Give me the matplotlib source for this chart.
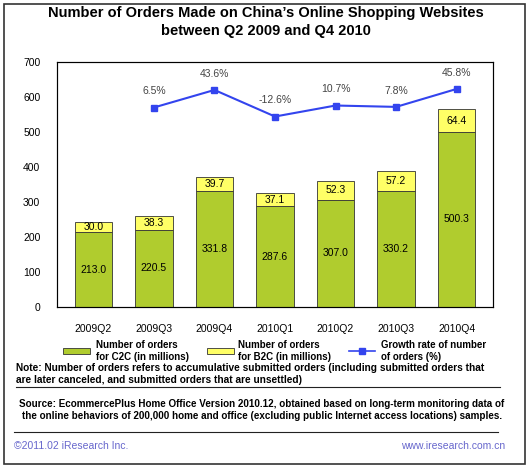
import matplotlib
matplotlib.use("Agg")
import matplotlib.pyplot as plt
from matplotlib.patches import Rectangle
from matplotlib.lines import Line2D

quarters = ["2009Q2", "2009Q3", "2009Q4", "2010Q1", "2010Q2", "2010Q3", "2010Q4"]
c2c = [213.0, 220.5, 331.8, 287.6, 307.0, 330.2, 500.3]
b2c = [30.0, 38.3, 39.7, 37.1, 52.3, 57.2, 64.4]
growth_q = ["2009Q3", "2009Q4", "2010Q1", "2010Q2", "2010Q3", "2010Q4"]
growth = [6.5, 43.6, -12.6, 10.7, 7.8, 45.8]

W, H = 532, 468
fig = plt.figure(figsize=(W/100, H/100), dpi=100)
plt.rcParams['font.family'] = ['Liberation Sans', 'DejaVu Sans']

def fx(px): return px / W
def fy(py): return 1 - py / H

fig.add_artist(Rectangle((fx(4), fy(464)), fx(521), (460)/H, transform=fig.transFigure,
                         fill=False, edgecolor='#333333', lw=1.2))

fig.text(0.5, fy(22), "Number of Orders Made on China’s Online Shopping Websites\nbetween Q2 2009 and Q4 2010",
         ha='center', va='center', fontsize=10.5, fontweight='bold', linespacing=1.3)

ax = fig.add_axes([fx(57), fy(307), fx(493-57), (307-62)/H])
x = list(range(len(quarters)))
ax.bar(x, c2c, width=0.62, color='#b0cc2e', edgecolor='#333333', lw=0.6)
ax.bar(x, b2c, bottom=c2c, width=0.62, color='#ffff66', edgecolor='#333333', lw=0.6)
for i in x:
    ax.text(i, c2c[i]/2, f"{c2c[i]:.1f}", ha='center', va='center', fontsize=7.5)
    ax.text(i, c2c[i] + b2c[i]/2, f"{b2c[i]:.1f}", ha='center', va='center', fontsize=7.5)
ax.set_ylim(0, 700)
ax.set_xlim(-0.6, 6.6)
ax.set_yticks(range(0, 701, 100))
ax.tick_params(axis='y', length=0, labelsize=7.5, pad=12)
ax.tick_params(axis='x', length=0, labelsize=7.5, pad=12)
ax.set_xticks(x)
ax.set_xticklabels(quarters)
for s in ax.spines.values():
    s.set_color('#333333')

ax2 = ax.twinx()
gx = [quarters.index(q) for q in growth_q]
ax2.plot(gx, growth, color='#3344ee', lw=1.5, marker='s', ms=4)
ax2.set_ylim(-415.7, 102.8)
ax2.set_yticks([])
for xi, g in zip(gx, growth):
    ax2.text(xi, g + 34, f"{g:.1f}%", ha='center', va='center', fontsize=7.5, color='#444444')
ax2.set_xlim(-0.6, 6.6)

# legend
ly = 351
fig.add_artist(Rectangle((fx(63), fy(ly + 3)), fx(27), 6/H, transform=fig.transFigure,
                         facecolor='#b0cc2e', edgecolor='#333333', lw=0.6))
fig.text(fx(96), fy(ly), "Number of orders\nfor C2C (in millions)", fontsize=7, va='center', fontweight='bold', linespacing=1.35)
fig.add_artist(Rectangle((fx(207), fy(ly + 3)), fx(27), 6/H, transform=fig.transFigure,
                         facecolor='#ffff66', edgecolor='#333333', lw=0.6))
fig.text(fx(238), fy(ly), "Number of orders\nfor B2C (in millions)", fontsize=7, va='center', fontweight='bold', linespacing=1.35)
fig.add_artist(Line2D([fx(349), fx(375)], [fy(ly), fy(ly)], transform=fig.transFigure, color='#3344ee', lw=1.2))
fig.add_artist(Line2D([fx(362)], [fy(ly)], transform=fig.transFigure, color='#3344ee', marker='s', ms=4))
fig.text(fx(381), fy(ly), "Growth rate of number\nof orders (%)", fontsize=7, va='center', fontweight='bold', linespacing=1.35)

fig.text(fx(16), fy(374), "Note: Number of orders refers to accumulative submitted orders (including submitted orders that\nare later canceled, and submitted orders that are unsettled)",
         fontsize=7.3, va='center', fontweight='bold', linespacing=1.15)
fig.add_artist(Line2D([fx(16), fx(500)], [fy(387), fy(387)], transform=fig.transFigure, color='#222222', lw=0.8))
fig.text(fx(262), fy(410), "Source: EcommercePlus Home Office Version 2010.12, obtained based on long-term monitoring data of\nthe online behaviors of 200,000 home and office (excluding public Internet access locations) samples.",
         fontsize=7.1, ha='center', va='center', fontweight='bold', linespacing=1.25)
fig.add_artist(Line2D([fx(14), fx(498)], [fy(432), fy(432)], transform=fig.transFigure, color='#222222', lw=0.8))
fig.text(fx(14), fy(446), "©2011.02 iResearch Inc.", fontsize=7.5, color='#6666cc', va='center')
fig.text(fx(505), fy(446), "www.iresearch.com.cn", fontsize=7.5, color='#6666cc', va='center', ha='right')

fig.savefig("out.png", dpi=100)
